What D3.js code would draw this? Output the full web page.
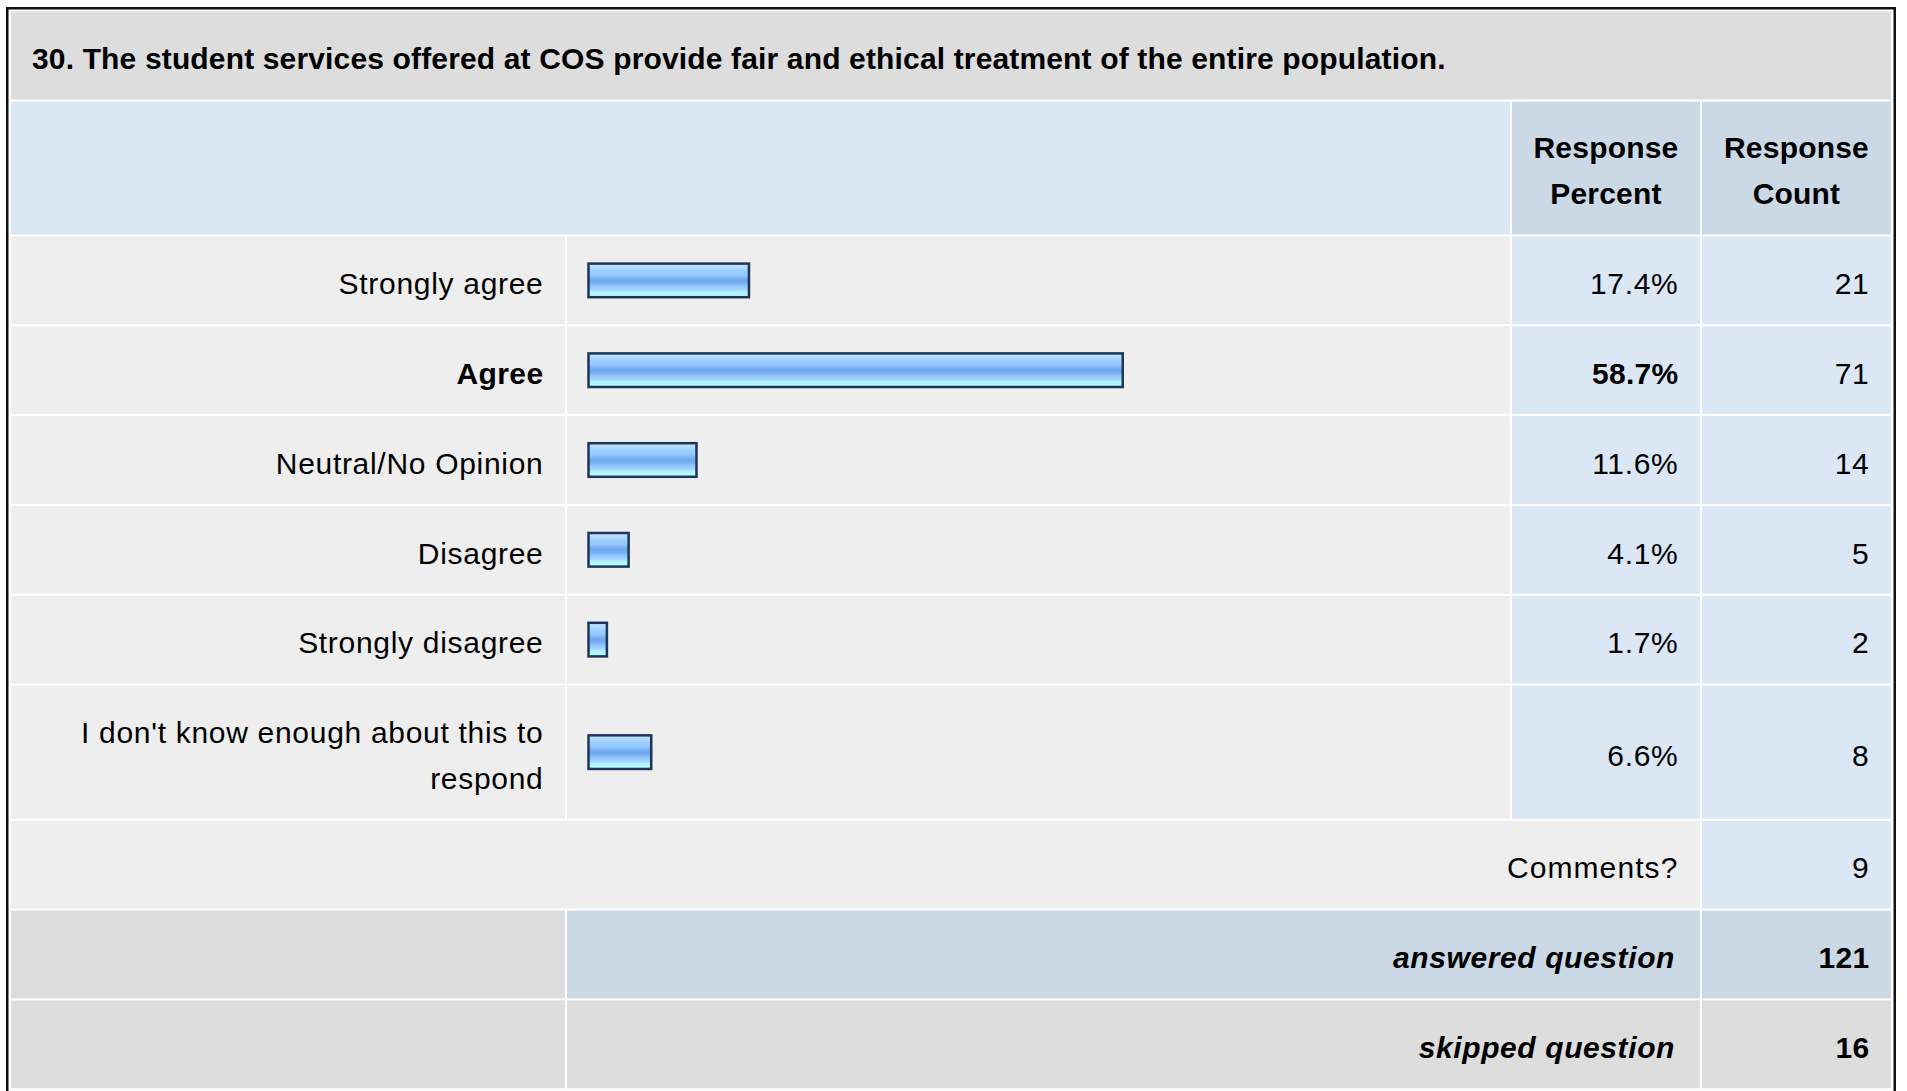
<!DOCTYPE html>
<html>
<head>
<meta charset="utf-8">
<script src="https://cdn.jsdelivr.net/npm/d3@7"></script>
<style>
  html, body { margin: 0; padding: 0; background: #ffffff; }
  svg { display: block; }
  text { font-family: "Liberation Sans", Arial, Helvetica, sans-serif; fill: #000; }
</style>
</head>
<body>
<svg id="chart" width="1907" height="1091"></svg>
<script>
// ---------------- data ----------------
const title = "30. The student services offered at COS provide fair and ethical treatment of the entire population.";
const categories = [
  "Strongly agree",
  "Agree",
  "Neutral/No Opinion",
  "Disagree",
  "Strongly disagree",
  "I don't know enough about this to respond"
];
const percents = [17.4, 58.7, 11.6, 4.1, 1.7, 6.6];
const counts = [21, 71, 14, 5, 2, 8];
const headerPercent = ["Response", "Percent"];
const headerCount = ["Response", "Count"];
const commentsLabel = "Comments?";
const commentsCount = 9;
const answeredLabel = "answered question";
const answeredCount = 121;
const skippedLabel = "skipped question";
const skippedCount = 16;

// ---------------- layout ----------------
const W = 1907, H = 1091;
const svg = d3.select("#chart");
const col = { x0: 11, labelEnd: 565, barStart: 567, barEnd: 1510, pctStart: 1512, pctEnd: 1700, cntStart: 1702, cntEnd: 1891 };
const gap = 2;
const pitch = 89.8;
const lineStep = 45.5;
const FS = 30;
const C = {
  title: "#dddddd", headLight: "#dce7f5", headDark: "#cbd8e6",
  row: "#eeeeee", rowNum: "#dce7f5", grey: "#dddddd", barStroke: "#1d3557"
};

// outer frame
svg.append("rect").attr("x", 7.25).attr("y", 8.25).attr("width", 1887.5).attr("height", 1100)
  .attr("fill", "#ffffff").attr("stroke", "#111111").attr("stroke-width", 2.5);

// gradient for bars
const defs = svg.append("defs");
const grad = defs.append("linearGradient").attr("id", "barGrad")
  .attr("x1", 0).attr("y1", 0).attr("x2", 0).attr("y2", 1);
[[0, "#c8e7ff"], [0.12, "#b0daff"], [0.22, "#9dcfff"], [0.34, "#93c7ff"], [0.42, "#7fb5f4"],
 [0.5, "#6fa7ec"], [0.58, "#78b0f2"], [0.68, "#92c6ff"], [0.78, "#a2d7ff"], [0.84, "#b2f2ff"],
 [1, "#b4ffff"]].forEach(([o, c]) => grad.append("stop").attr("offset", o).attr("stop-color", c));

function cell(x0, x1, y0, y1, fill) {
  svg.append("rect").attr("x", x0).attr("y", y0).attr("width", x1 - x0).attr("height", y1 - y0).attr("fill", fill);
}
function txt(x, y, s, anchor, opts = {}) {
  return svg.append("text").attr("x", x).attr("y", y).attr("text-anchor", anchor)
    .style("font-size", (opts.size || FS) + "px")
    .style("font-weight", opts.bold ? "bold" : "normal")
    .style("font-style", opts.italic ? "italic" : "normal")
    .style("letter-spacing", (opts.ls == null ? 0.7 : opts.ls) + "px")
    .text(s);
}

// title band
cell(col.x0, col.cntEnd, 11.5, 99.5, C.title);
txt(32, 69, title, "start", { bold: true, ls: 0.15 });

// header band
const hTop = 101.5, hBot = 234.5, hMid = (hTop + hBot) / 2;
cell(col.x0, col.barEnd, hTop, hBot, C.headLight);
cell(col.pctStart, col.pctEnd, hTop, hBot, C.headDark);
cell(col.cntStart, col.cntEnd, hTop, hBot, C.headDark);
[[headerPercent, (col.pctStart + col.pctEnd) / 2], [headerCount, (col.cntStart + col.cntEnd) / 2]].forEach(([lines, cx]) => {
  lines.forEach((l, i) => txt(cx, hMid - 10 + i * 46, l, "middle", { bold: true, ls: 0.2 }));
});

// wrap labels by measuring
const maxLabelW = 500;
function wrapLabel(s) {
  const words = s.split(" ");
  const lines = [];
  let cur = "";
  const probe = txt(-1000, -1000, "", "start");
  words.forEach(w => {
    const t = cur ? cur + " " + w : w;
    probe.text(t);
    if (probe.node().getComputedTextLength() > maxLabelW && cur) { lines.push(cur); cur = w; }
    else cur = t;
  });
  lines.push(cur);
  probe.remove();
  return lines;
}

const x = d3.scaleLinear().domain([0, 100]).range([0, 905]);
const fmtPct = d => d3.format(".1f")(d) + "%";
const maxIdx = d3.maxIndex(percents);
const tOff = 13.7;

let y = 236.5;
categories.forEach((cat, i) => {
  const lines = wrapLabel(cat);
  const h = pitch - gap + (lines.length - 1) * lineStep;
  const y0 = y, y1 = y + h, cy = (y0 + y1) / 2;
  const bold = i === maxIdx;
  cell(col.x0, col.labelEnd, y0, y1, C.row);
  cell(col.barStart, col.barEnd, y0, y1, C.row);
  cell(col.pctStart, col.pctEnd, y0, y1, C.rowNum);
  cell(col.cntStart, col.cntEnd, y0, y1, C.rowNum);
  const n = lines.length;
  lines.forEach((l, k) => {
    txt(col.labelEnd - 21.5, cy + tOff + (k - (n - 1) / 2) * lineStep, l, "end", { bold, ls: bold ? 0.4 : 0.7 });
  });
  // bar
  svg.append("rect")
    .attr("x", 588.5).attr("y", cy - 16.8)
    .attr("width", x(percents[i]) + 3).attr("height", 33.6)
    .attr("fill", "url(#barGrad)")
    .attr("stroke", C.barStroke).attr("stroke-width", 2.5);
  txt(col.pctEnd - 21.5, cy + tOff, fmtPct(percents[i]), "end", { bold, ls: bold ? 0.3 : 0.7 });
  txt(col.cntEnd - 21.5, cy + tOff, counts[i], "end", {});
  y = y1 + gap;
});

// comments row
{
  const y0 = y, y1 = y + pitch - gap, cy = (y0 + y1) / 2;
  cell(col.x0, col.pctEnd, y0, y1, C.row);
  cell(col.cntStart, col.cntEnd, y0, y1, C.rowNum);
  txt(col.pctEnd - 21.5, cy + tOff, commentsLabel, "end", { ls: 1.1 });
  txt(col.cntEnd - 21.5, cy + tOff, commentsCount, "end", {});
  y = y1 + gap;
}
// answered row
{
  const y0 = y, y1 = y + pitch - gap, cy = (y0 + y1) / 2;
  cell(col.x0, col.labelEnd, y0, y1, C.grey);
  cell(col.barStart, col.pctEnd, y0, y1, C.headDark);
  cell(col.cntStart, col.cntEnd, y0, y1, C.headDark);
  txt(col.pctEnd - 25, cy + tOff, answeredLabel, "end", { bold: true, italic: true, ls: 0.6 });
  txt(col.cntEnd - 21.5, cy + tOff, answeredCount, "end", { bold: true, ls: 0.3 });
  y = y1 + gap;
}
// skipped row
{
  const y0 = y, y1 = y + pitch - gap, cy = (y0 + y1) / 2;
  cell(col.x0, col.labelEnd, y0, y1, C.grey);
  cell(col.barStart, col.pctEnd, y0, y1, C.grey);
  cell(col.cntStart, col.cntEnd, y0, y1, C.grey);
  txt(col.pctEnd - 25, cy + tOff, skippedLabel, "end", { bold: true, italic: true, ls: 0.6 });
  txt(col.cntEnd - 21.5, cy + tOff, skippedCount, "end", { bold: true, ls: 0.3 });
}
</script>
</body>
</html>
